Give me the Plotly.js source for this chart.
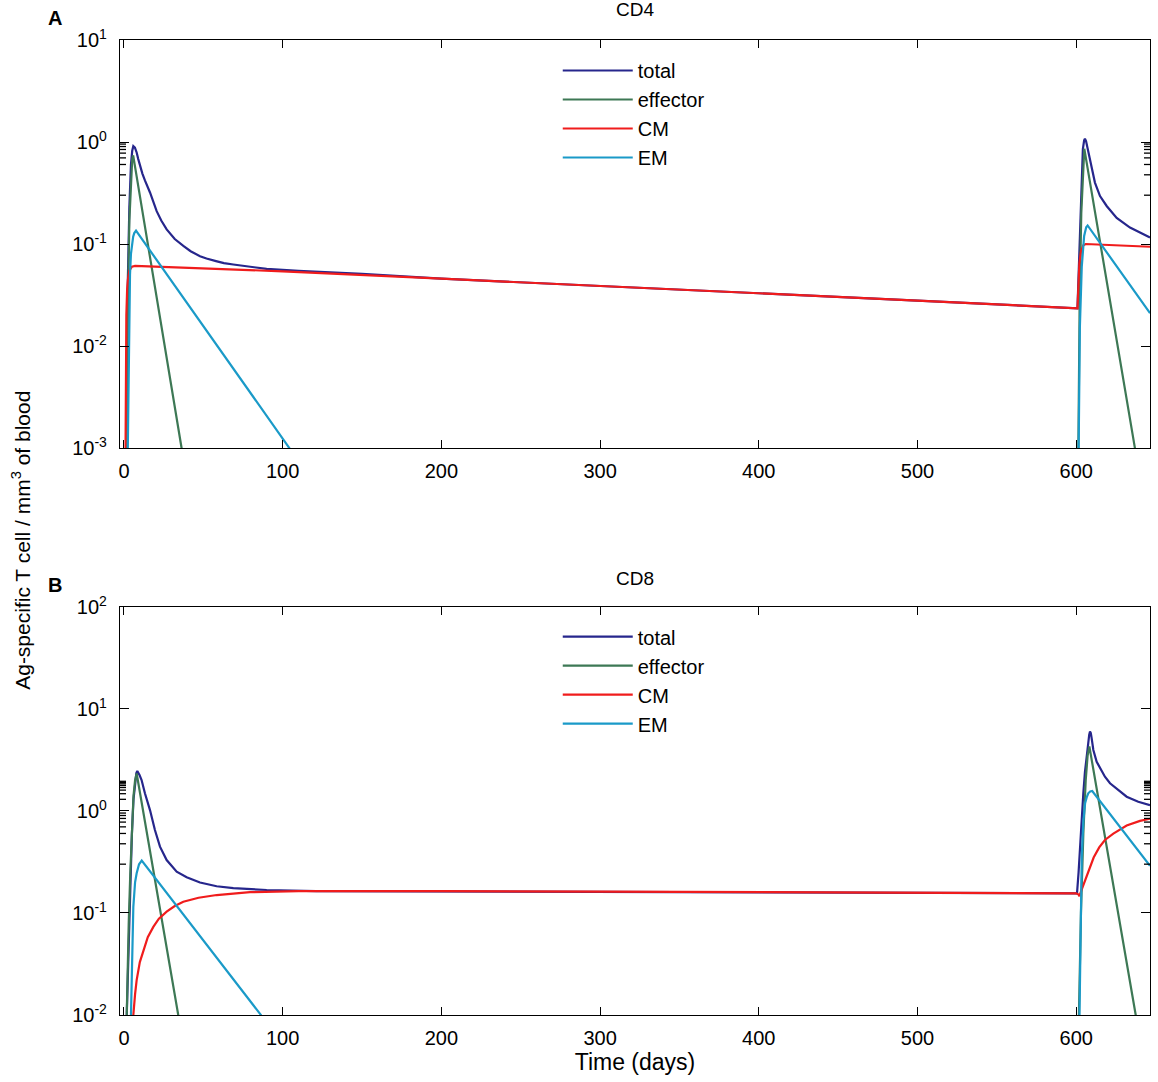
<!DOCTYPE html>
<html>
<head>
<meta charset="utf-8">
<title>CD4 / CD8 T cell kinetics</title>
<script src="https://cdn.plot.ly/plotly-3.0.1.min.js"></script>
<style>
	html, body { margin: 0; padding: 0; background: #ffffff; }
	#chart { width: 1158px; height: 1082px; }
</style>
</head>
<body>
<div id="chart"></div>
<script>
'use strict';

// series names and colours
const seriesNames = ['total', 'effector', 'CM', 'EM'];
const seriesColors = ['#26268c', '#3d7855', '#f01c1c', '#1a9ac8'];
const xTicks = [0, 100, 200, 300, 400, 500, 600];

// y tick labels (decades)
const cd4Decades = [0.001, 0.01, 0.1, 1, 10];
const cd4DecadeText = ['10<sup>-3</sup>', '10<sup>-2</sup>', '10<sup>-1</sup>', '10<sup>0</sup>', '10<sup>1</sup>'];
const cd8Decades = [0.01, 0.1, 1, 10, 100];
const cd8DecadeText = ['10<sup>-2</sup>', '10<sup>-1</sup>', '10<sup>0</sup>', '10<sup>1</sup>', '10<sup>2</sup>'];

// CD4 panel (cells / mm3)
const cd4TotalDays = [1.0, 1.4, 2.3, 3.4, 4.4, 5.2, 5.9, 6.9, 8, 9, 10.1, 11.6, 13.2, 16.4, 20.6, 23.5, 26.9, 32, 37.4, 42, 47.9, 52, 58, 63, 68.9, 79, 89.9, 110, 150, 200, 300, 400, 500, 600.8, 601.5, 602.2, 603.2, 604.2, 605, 605.5, 606.2, 607.6, 609.7, 611.8, 615, 619.2, 625.5, 633.9, 646.5];
const cd4Total = [0.0001, 0.001, 0.035, 0.23, 0.6, 0.82, 0.91, 0.88, 0.79, 0.68, 0.58, 0.49, 0.42, 0.32, 0.21, 0.17, 0.139, 0.112, 0.096, 0.085, 0.076, 0.072, 0.068, 0.065, 0.063, 0.06, 0.057, 0.0545, 0.051, 0.0457, 0.0389, 0.0331, 0.0279, 0.0234, 0.05, 0.16, 0.45, 0.85, 1.04, 1.08, 1.02, 0.79, 0.54, 0.40, 0.295, 0.236, 0.18, 0.145, 0.116];

const cd4EffDays = [1.2, 1.7, 2.5, 3.4, 4.4, 5.2, 5.8, 36.3, 40, null, 600.8, 601.3, 602.2, 603.2, 604.2, 605.1, 637, 640];
const cd4Eff = [0.0001, 0.001, 0.025, 0.17, 0.48, 0.68, 0.74, 0.001, 0.0004, null, 0.0001, 0.001, 0.03, 0.2, 0.55, 0.86, 0.001, 0.0004];

const cd4CmDays = [0.6, 1.0, 1.5, 2.0, 2.5, 3.5, 5, 7, 50, 100, 200, 300, 400, 500, 600.8, 601.3, 602, 603, 604.5, 606, 646.5];
const cd4Cm = [0.0001, 0.002, 0.02, 0.036, 0.045, 0.055, 0.06, 0.061, 0.0575, 0.054, 0.0457, 0.0389, 0.0331, 0.0279, 0.0234, 0.04, 0.065, 0.085, 0.097, 0.1, 0.094];

const cd4EmDays = [1.6, 2.3, 3, 3.8, 4.4, 5, 5.8, 6.5, 7.6, 104.2, 110, null, 600.9, 601.5, 602.3, 603.5, 604.3, 605, 606.3, 607.2, 646.5];
const cd4Em = [0.0001, 0.001, 0.012, 0.05, 0.08, 0.1, 0.118, 0.128, 0.135, 0.001, 0.0007, null, 0.0001, 0.001, 0.015, 0.06, 0.095, 0.12, 0.146, 0.152, 0.021];

// CD8 panel
const cd8TotalDays = [1.2, 2, 3, 4, 5, 6, 7.2, 7.8, 8.4, 9.0, 9.8, 11.1, 13.2, 16.4, 19.5, 22.7, 26.9, 33.2, 39.5, 47.9, 58.4, 68.9, 89.9, 121, 200, 300, 400, 500, 600.5, 601.5, 603, 604.5, 605.5, 606.5, 607.5, 608.2, 608.7, 609.2, 609.7, 610.8, 612.9, 615, 618.1, 621.3, 626.5, 631.8, 639.1, 646.5];
const cd8Total = [0.005, 0.015, 0.06, 0.2, 0.6, 1.3, 2.1, 2.35, 2.47, 2.4, 2.25, 2.01, 1.49, 1.02, 0.65, 0.447, 0.33, 0.254, 0.224, 0.199, 0.183, 0.175, 0.168, 0.164, 0.163, 0.161, 0.159, 0.158, 0.156, 0.25, 0.7, 1.5, 2.4, 3.5, 4.8, 5.6, 6.0, 5.8, 5.2, 3.96, 3.04, 2.62, 2.17, 1.87, 1.61, 1.38, 1.23, 1.14];

const cd8EffDays = [1.2, 2, 3, 4, 5, 6, 7, 7.6, 8, 34.2, 37, null, 601.2, 602, 603, 604.5, 606, 607.2, 607.8, 608.3, 637.5, 640];
const cd8Eff = [0.004, 0.02, 0.08, 0.25, 0.7, 1.4, 2.0, 2.25, 2.33, 0.01, 0.005, null, 0.004, 0.02, 0.1, 0.6, 2.0, 3.5, 4.05, 4.3, 0.01, 0.005];

const cd8CmDays = [5.5, 5.9, 7, 8, 10, 12.2, 15, 18.5, 22, 26.9, 32, 37.4, 47, 58.4, 79.4, 110, 150, 200, 300, 400, 500, 600, 601.5, 602, 603.5, 605.6, 608, 611, 614.5, 618.1, 623.4, 631.8, 640.2, 646.5];
const cd8Cm = [0.007, 0.01, 0.016, 0.022, 0.033, 0.043, 0.058, 0.073, 0.088, 0.103, 0.117, 0.129, 0.141, 0.15, 0.16, 0.164, 0.165, 0.164, 0.162, 0.16, 0.158, 0.156, 0.152, 0.146, 0.17, 0.21, 0.27, 0.35, 0.44, 0.52, 0.60, 0.72, 0.80, 0.84];

const cd8EmDays = [4, 4.4, 5, 5.9, 7, 8, 9.5, 10.4, 11.2, 86.3, 90, null, 601.8, 602.3, 603, 603.5, 604.5, 605.6, 606.6, 607.6, 608.8, 610.1, 646.5];
const cd8Em = [0.005, 0.01, 0.04, 0.115, 0.2, 0.245, 0.3, 0.318, 0.326, 0.01, 0.007, null, 0.005, 0.02, 0.15, 0.36, 0.8, 1.19, 1.36, 1.49, 1.55, 1.57, 0.29];

document.addEventListener('DOMContentLoaded', function(){

	const font = 'Liberation Sans, Arial, Helvetica, sans-serif';

	function makeTraces(days, values, xa, ya, legendId)
	{
		return days.map(function(d, i){
			return {
				x: d,
				y: values[i],
				name: seriesNames[i],
				type: 'scatter',
				mode: 'lines',
				connectgaps: false,
				line: {color: seriesColors[i], width: 2.2},
				xaxis: xa,
				yaxis: ya,
				legend: legendId,
				hoverinfo: 'x+y+name'
			};
		});
	}

	// small ticks 2..9 in each decade, drawn on both sides of the box
	// (shape positions on a log axis are given as log10 values)
	function minorTickShapes(xa, ya, decades)
	{
		const len = 6 / 1030;
		let shapes = [];
		decades.slice(0, -1).forEach(function(v){
			for(let k = 2; k <= 9; k++)
			{
				const pos = Math.log10(v * k);
				[[0, len], [1 - len, 1]].forEach(function(side){
					shapes.push({
						type: 'line',
						xref: xa + ' domain',
						yref: ya,
						x0: side[0],
						x1: side[1],
						y0: pos,
						y1: pos,
						layer: 'above',
						line: {color: '#000', width: 1.3}
					});
				});
			}
		});
		return shapes;
	}

	function xAxis(anchor)
	{
		return {
			anchor: anchor,
			range: [-2.5, 646.5],
			tickmode: 'array',
			tickvals: xTicks,
			ticktext: xTicks.map(String),
			ticks: 'inside',
			ticklen: 8,
			tickwidth: 1.3,
			tickcolor: '#000',
			ticklabelstandoff: 5,
			showline: true,
			linecolor: '#000',
			linewidth: 1.3,
			mirror: 'allticks',
			showgrid: false,
			zeroline: false,
			tickfont: {family: font, size: 20, color: '#000'}
		};
	}

	function yAxis(anchor, range, domain, vals, text)
	{
		return {
			anchor: anchor,
			type: 'log',
			range: range,
			domain: domain,
			tickmode: 'array',
			tickvals: vals,
			ticktext: text,
			ticks: 'inside',
			ticklen: 9,
			tickwidth: 1.3,
			tickcolor: '#000',
			ticklabelstandoff: 8,
			showline: true,
			linecolor: '#000',
			linewidth: 1.3,
			mirror: 'allticks',
			showgrid: false,
			zeroline: false,
			tickfont: {family: font, size: 20, color: '#000'}
		};
	}

	function legendAt(y)
	{
		return {
			x: 0.425,
			y: y,
			xanchor: 'left',
			yanchor: 'top',
			bgcolor: 'rgba(255,255,255,0)',
			borderwidth: 0,
			itemwidth: 70,
			font: {family: font, size: 20, color: '#000'}
		};
	}

	function drawChart()
	{
		try {
			const top = makeTraces([cd4TotalDays, cd4EffDays, cd4CmDays, cd4EmDays],
				[cd4Total, cd4Eff, cd4Cm, cd4Em], 'x2', 'y2', 'legend');
			const bottom = makeTraces([cd8TotalDays, cd8EffDays, cd8CmDays, cd8EmDays],
				[cd8Total, cd8Eff, cd8Cm, cd8Em], 'x', 'y', 'legend2');

			const xb = xAxis('y');
			xb.title = {text: 'Time (days)', font: {family: font, size: 23, color: '#000'}, standoff: 4};

			const layout = {
				width: 1158,
				height: 1082,
				margin: {l: 120, r: 8, t: 40, b: 67},
				paper_bgcolor: '#ffffff',
				plot_bgcolor: '#ffffff',
				font: {family: font, size: 18, color: '#000'},
				showlegend: true,
				xaxis: xb,
				yaxis: yAxis('x', [-2, 2], [0, 0.4185], cd8Decades, cd8DecadeText),
				xaxis2: xAxis('y2'),
				yaxis2: yAxis('x2', [-3, 1], [0.5815, 1], cd4Decades, cd4DecadeText),
				legend: legendAt(0.9887),
				legend2: legendAt(0.408),
				shapes: minorTickShapes('x2', 'y2', cd4Decades).concat(minorTickShapes('x', 'y', cd8Decades)),
				annotations: [
					{text: 'CD4', xref: 'paper', yref: 'paper', x: 0.5, y: 1.0308, xanchor: 'center', yanchor: 'middle', showarrow: false, font: {size: 19}},
					{text: 'CD8', xref: 'paper', yref: 'paper', x: 0.5, y: 0.448, xanchor: 'center', yanchor: 'middle', showarrow: false, font: {size: 19}},
					{text: '<b>A</b>', xref: 'paper', yref: 'paper', x: -0.063, y: 1.0226, xanchor: 'center', yanchor: 'middle', showarrow: false, font: {size: 20}},
					{text: '<b>B</b>', xref: 'paper', yref: 'paper', x: -0.063, y: 0.441, xanchor: 'center', yanchor: 'middle', showarrow: false, font: {size: 20}},
					{text: 'Ag-specific T cell / mm<sup>3</sup> of blood', xref: 'paper', yref: 'paper',
						x: -0.0955, y: 0.487, xanchor: 'center', yanchor: 'middle', textangle: -90, showarrow: false, font: {size: 21}}
				]
			};

			Plotly.newPlot('chart', top.concat(bottom), layout, {displayModeBar: false, responsive: false});
		}

		catch (err) {
			console.error(err);
		}
	}

	drawChart();
});
</script>
</body>
</html>
